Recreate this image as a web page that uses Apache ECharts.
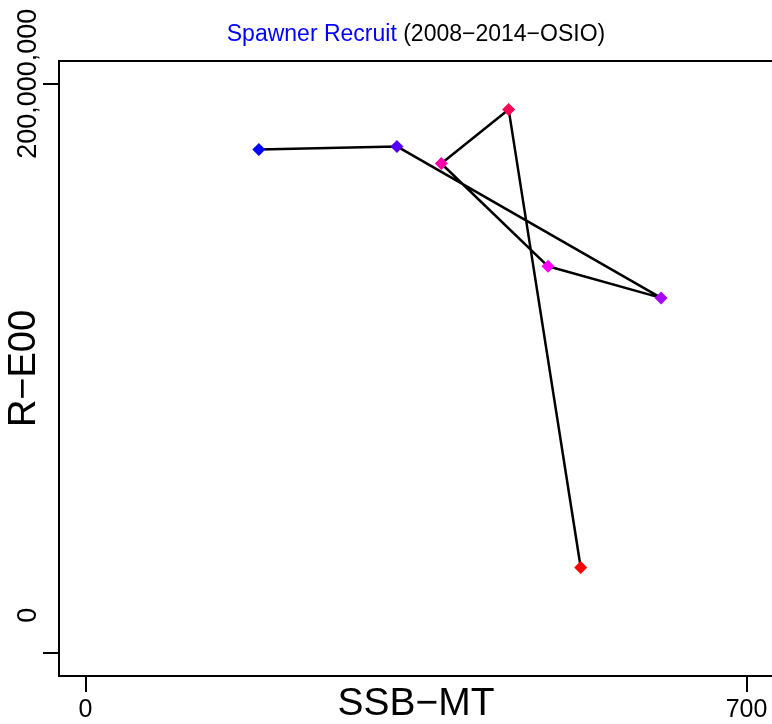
<!DOCTYPE html>
<html>
<head>
<meta charset="utf-8">
<script src="https://cdn.jsdelivr.net/npm/echarts@6/dist/echarts.min.js"></script>
<style>
html,body{margin:0;padding:0;background:#fff;}
#chart{width:772px;height:724px;}
</style>
</head>
<body>
<div id="chart"></div>
<script>
// Data
var years = [2008, 2009, 2010, 2011, 2012, 2013, 2014];
var ssb = [183.6, 329.8, 609.5, 489.8, 376.8, 448.1, 524.4];
var recruits = [176.9e6, 178.0e6, 124.8e6, 135.9e6, 172.0e6, 191.0e6, 30.1e6];
var pointColors = ['#0000FF', '#5500FF', '#AA00FF', '#FF00FF', '#FF00AA', '#FF0055', '#FF0000'];
var xTicks = [0, 700];
var yTicks = [0, 200000000];

var font = 'Liberation Sans, Arial, Helvetica, sans-serif';

var seriesData = years.map(function (yr, i) {
  return { name: String(yr), value: [ssb[i], recruits[i]], itemStyle: { color: pointColors[i] } };
});

function fmtNum(v) {
  return String(Math.round(v)).replace(/\B(?=(\d{3})+(?!\d))/g, ',');
}

var chart = echarts.init(document.getElementById('chart'), null, { renderer: 'canvas' });
chart.setOption({
  backgroundColor: '#ffffff',
  animation: false,
  title: {
    text: '{b|Spawner Recruit} {k|(2008\u22122014\u2212OSIO)}',
    left: 416,
    top: 23,
    padding: 0,
    textAlign: 'center',
    textStyle: {
      fontFamily: font,
      fontSize: 23,
      fontWeight: 'normal',
      rich: {
        b: { color: '#0000FF', fontSize: 23, fontFamily: font },
        k: { color: '#000000', fontSize: 23, fontFamily: font }
      }
    }
  },
  grid: {
    left: 59, top: 61, width: 714, height: 615,
    containLabel: false,
    outerBoundsMode: 'none',
    show: true, borderColor: '#000', borderWidth: 2, backgroundColor: 'transparent'
  },
  xAxis: {
    type: 'value',
    min: -28, max: 728,
    name: 'SSB\u2212MT',
    nameLocation: 'middle',
    nameGap: 9,
    nameMoveOverlap: false,
    nameTextStyle: { fontFamily: font, fontSize: 39, color: '#000', verticalAlign: 'top' },
    axisLine: { show: true, onZero: false, lineStyle: { color: '#000', width: 2 } },
    axisTick: { show: true, length: 16, lineStyle: { color: '#000', width: 2 }, customValues: xTicks },
    axisLabel: { show: true, margin: 22, fontFamily: font, fontSize: 25, color: '#000', customValues: xTicks, showMinLabel: true, showMaxLabel: true },
    splitLine: { show: false }
  },
  yAxis: {
    type: 'value',
    min: -8e6, max: 208e6,
    name: 'R\u2212E00',
    nameLocation: 'middle',
    nameGap: 15,
    nameRotate: 90,
    nameMoveOverlap: false,
    nameTextStyle: { fontFamily: font, fontSize: 38, color: '#000' },
    axisLine: { show: true, onZero: false, lineStyle: { color: '#000', width: 2 } },
    axisTick: { show: true, length: 16, lineStyle: { color: '#000', width: 2 }, customValues: yTicks },
    axisLabel: {
      show: true, margin: 17, rotate: 90, fontFamily: font, fontSize: 27, color: '#000',
      customValues: yTicks,
      formatter: function (v) {
        if (v === 0) return '{z|0}';
        return '{n|' + fmtNum(v) + '}';
      },
      rich: {
        z: { fontFamily: font, fontSize: 27, color: '#000', padding: [0, 0, 0, 76] },
        n: { fontFamily: font, fontSize: 27, color: '#000' }
      }
    },
    splitLine: { show: false }
  },
  series: [{
    type: 'line',
    data: seriesData,
    symbol: 'diamond',
    symbolSize: 13,
    showSymbol: true,
    lineStyle: { color: '#000', width: 2.5 },
    z: 3
  }]
});
</script>
</body>
</html>
